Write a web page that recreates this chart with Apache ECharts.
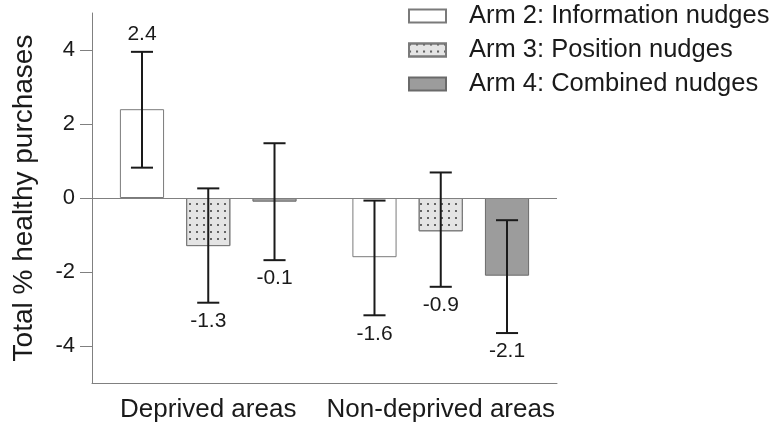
<!doctype html>
<html>
    <head>
        <meta charset="utf-8">
        <title>Healthy purchases by arm</title>
        <style>
            html, body { margin: 0; padding: 0; background: #fff; }
            #main { width: 772px; height: 428px; }
        </style>
    </head>
    <body>
        <div id="main"></div>
        <script src="https://cdn.jsdelivr.net/npm/echarts@6/dist/echarts.min.js"></script>
        <script>
            var categories = ['Deprived areas', 'Non-deprived areas'];
            var arms = ['Arm 2: Information nudges', 'Arm 3: Position nudges', 'Arm 4: Combined nudges'];

            // mean change per arm, one value per category
            var means = [
                [2.4, -1.6],
                [-1.3, -0.9],
                [-0.1, -2.1]
            ];
            // lower / upper error limits
            var ciLow = [
                [0.82, -3.17],
                [-2.83, -2.40],
                [-1.68, -3.65]
            ];
            var ciHigh = [
                [3.95, -0.07],
                [0.26, 0.69],
                [1.48, -0.6]
            ];
            var yTicks = [-4, -2, 0, 2, 4];

            var font = "'Liberation Sans', Arial, sans-serif";
            var axisGray = '#808080';
            var ink = '#1a1a1a';

            var barStyles = [
                { color: '#ffffff', borderColor: '#7a7a7a', borderWidth: 1 },
                {
                    color: '#e4e4e4', borderColor: '#7a7a7a', borderWidth: 1,
                    decal: {
                        symbol: 'rect',
                        symbolSize: 0.9,
                        color: '#555555',
                        dashArrayX: [2, 5],
                        dashArrayY: [2, 5],
                        rotation: 0
                    }
                },
                { color: '#9c9c9c', borderColor: '#6a6a6a', borderWidth: 1 }
            ];

            // fraction of the band used by one bar (3 bars + 2 half gaps)
            var barFrac = 0.19;

            function errorSeries(armIdx) {
                var data = categories.map(function (c, i) {
                    return [i, ciLow[armIdx][i], ciHigh[armIdx][i], means[armIdx][i]];
                });
                return {
                    type: 'custom',
                    z: 5,
                    data: data,
                    encode: { x: 0, y: [1, 2] },
                    renderItem: function (params, api) {
                        var cat = api.value(0);
                        var lo = api.value(1);
                        var hi = api.value(2);
                        var m = api.value(3);
                        var band = api.size([1, 0])[0];
                        var bw = band * barFrac;
                        var x = api.coord([cat, 0])[0] + (armIdx - 1) * bw * 1.5;
                        var yHi = api.coord([cat, hi])[1];
                        var yLo = api.coord([cat, lo])[1];
                        var half = bw * 0.25;
                        var st = { stroke: ink, lineWidth: 2 };
                        var labelY = m >= 0 ? yHi - 7 : yLo + 8;
                        return {
                            type: 'group',
                            children: [
                                { type: 'line', shape: { x1: x, y1: yHi, x2: x, y2: yLo }, style: st },
                                { type: 'line', shape: { x1: x - half, y1: yHi, x2: x + half, y2: yHi }, style: st },
                                { type: 'line', shape: { x1: x - half, y1: yLo, x2: x + half, y2: yLo }, style: st },
                                {
                                    type: 'text',
                                    style: {
                                        x: x,
                                        y: labelY,
                                        text: m.toFixed(1),
                                        fill: ink,
                                        font: '21px ' + font,
                                        align: 'center',
                                        verticalAlign: m >= 0 ? 'bottom' : 'top'
                                    }
                                }
                            ]
                        };
                    }
                };
            }

            var series = arms.map(function (name, k) {
                var s = {
                    name: name,
                    type: 'bar',
                    data: means[k],
                    itemStyle: barStyles[k],
                    barGap: '50%',
                    barCategoryGap: '24%'
                };
                if (k === 0) {
                    s.markLine = {
                        silent: true,
                        symbol: ['none', 'none'],
                        label: { show: false },
                        lineStyle: { color: axisGray, type: 'solid', width: 1 },
                        data: [{ yAxis: 0 }]
                    };
                }
                return s;
            });
            arms.forEach(function (a, k) {
                series.push(errorSeries(k));
            });

            var chart = echarts.init(document.getElementById('main'));
            chart.setOption({
                animation: false,
                textStyle: { fontFamily: font },
                grid: { left: 92, right: 215, top: 13, bottom: 45 },
                legend: {
                    data: arms,
                    orient: 'vertical',
                    left: 408,
                    top: 3,
                    padding: 0,
                    itemWidth: 37,
                    itemHeight: 13,
                    itemGap: 8,
                    icon: 'rect',
                    textStyle: {
                        fontSize: 25.5,
                        lineHeight: 26,
                        color: ink,
                        fontFamily: font,
                        padding: [0, 0, 0, 18]
                    }
                },
                xAxis: {
                    type: 'category',
                    data: categories,
                    axisLine: { onZero: false, lineStyle: { color: axisGray, width: 1 } },
                    axisTick: { alignWithLabel: true, length: 12, lineStyle: { color: axisGray } },
                    axisLabel: { fontSize: 26, color: ink, margin: 14, interval: 0, hideOverlap: false }
                },
                yAxis: {
                    type: 'value',
                    min: -5,
                    max: 5,
                    name: 'Total % healthy purchases',
                    nameLocation: 'middle',
                    nameGap: 54,
                    nameTextStyle: { fontSize: 28, color: ink },
                    axisLine: { show: true, lineStyle: { color: axisGray, width: 1 } },
                    axisTick: { show: true, length: 12, customValues: yTicks, lineStyle: { color: axisGray } },
                    axisLabel: { fontSize: 22, color: ink, margin: 17, customValues: yTicks },
                    splitLine: { show: false }
                },
                series: series
            });
        </script>
    </body>
</html>
